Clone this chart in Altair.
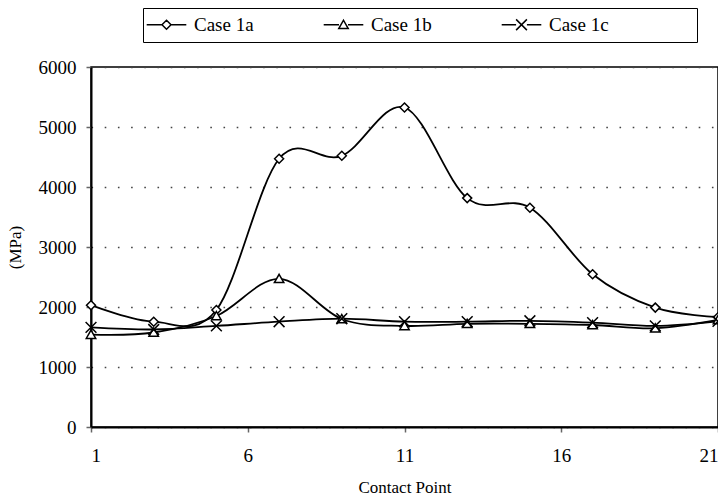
import altair as alt
import pandas as pd

contact_points = [1, 3, 5, 7, 9, 11, 13, 15, 17, 19, 21]
series_names = ["Case 1a", "Case 1b", "Case 1c"]
case_1a = [2030, 1755, 1950, 4470, 4520, 5325, 3815, 3655, 2545, 1990, 1830]
case_1b = [1540, 1575, 1850, 2470, 1800, 1685, 1720, 1720, 1700, 1645, 1785]
case_1c = [1660, 1625, 1685, 1755, 1805, 1755, 1755, 1770, 1740, 1685, 1760]
x_ticks = [1, 6, 11, 16, 21]
y_ticks = [0, 1000, 2000, 3000, 4000, 5000, 6000]

rows = []
for name, vals in zip(series_names, [case_1a, case_1b, case_1c]):
    for x, v in zip(contact_points, vals):
        rows.append({"point": x, "value": v, "series": name, "key": name})
df = pd.DataFrame(rows)

FONT = "'Liberation Serif', serif"
DIAMOND = "M0,-1L1,0L0,1L-1,0Z"
TRIANGLE = "M0,-1L1.05,0.85L-1.05,0.85Z"
XMARK = "M-1.2,-1.2L1.2,1.2M-1.2,1.2L1.2,-1.2"
LINE = "M-4.4,0L-1,0M1,0L4.4,0"
LINEX = "M-4.4,0L-1.2,0M1.2,0L4.4,0"

nb = "\u00a0" * 17 + "\u200b"
label_expr = "datum.value === 'Case 1c' ? datum.label + '" + nb + "' : datum.label"

x_enc = alt.X(
    "point:Q",
    scale=alt.Scale(domain=[1, 21], nice=False, zero=False),
    axis=alt.Axis(values=x_ticks, title="Contact Point", grid=False, format="d",
                  labelPadding=14, titlePadding=14),
)
y_enc = alt.Y(
    "value:Q",
    scale=alt.Scale(domain=[0, 6000], nice=False),
    axis=alt.Axis(values=y_ticks, title="(MPa)", grid=True, format="d",
                  labelPadding=10, titlePadding=14),
)

lines = alt.Chart(df).mark_line(
    interpolate="cardinal", color="black", strokeWidth=1.8
).encode(x=x_enc, y=y_enc, detail="series:N")

points = alt.Chart(df).mark_point(
    filled=True, fill="white", stroke="black", strokeWidth=1.5, size=81, opacity=1
).encode(
    x=x_enc,
    y=y_enc,
    shape=alt.Shape(
        "key:N",
        scale=alt.Scale(domain=series_names, range=[DIAMOND, TRIANGLE, XMARK]),
        legend=None,
    ),
)

legend_layer = alt.Chart(df).transform_filter(
    alt.datum.point < 0
).mark_point(
    filled=False, stroke="black", strokeWidth=1.5, size=81, opacity=1
).encode(
    x=x_enc,
    y=y_enc,
    shape=alt.Shape(
        "series:N",
        scale=alt.Scale(domain=series_names,
                        range=[LINE + DIAMOND, LINE + TRIANGLE, LINEX + XMARK]),
        legend=alt.Legend(
            title=None,
            orient="none",
            legendX=52,
            legendY=-59,
            direction="horizontal",
            columns=3,
            columnPadding=66,
            symbolSize=81,
            symbolOffset=7,
            labelOffset=18,
            symbolOpacity=1,
            symbolStrokeWidth=1.5,
            symbolStrokeColor="black",
            symbolFillColor="white",
            labelFont=FONT,
            labelFontSize=19,
            labelFontWeight="normal",
            labelColor="black",
            labelExpr=label_expr,
            labelLimit=400,
            strokeColor="black",
            fillColor="white",
            padding=7,
        ),
    ),
)

chart = (
    alt.layer(lines, points, legend_layer)
    .resolve_scale(shape="independent")
    .properties(
        width=627,
        height=360,
        autosize="none",
        padding={"left": 83, "top": 59, "right": 0, "bottom": 73},
    )
    .configure(font=FONT, background="white")
    .configure_view(stroke="black", strokeWidth=1.5)
    .configure_axis(
        domainColor="black",
        domainWidth=2,
        tickColor="#666666",
        tickSize=5,
        tickWidth=1.5,
        labelFont=FONT,
        labelFontSize=19,
        labelFontWeight="normal",
        labelColor="black",
        titleFont=FONT,
        titleFontSize=17,
        titleFontWeight="normal",
        titleColor="black",
        gridColor="#444444",
        gridDash=[1.6, 11.6],
        gridWidth=1.6,
    )
)

chart.save("out.html", embed_options={"renderer": "svg", "actions": False})
